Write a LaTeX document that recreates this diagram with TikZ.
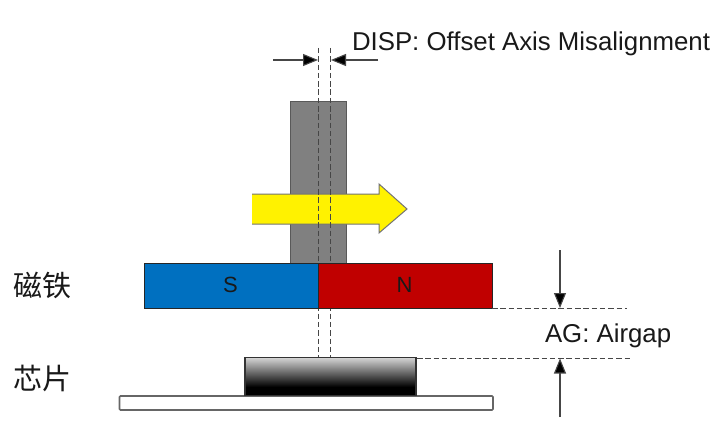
\documentclass[tikz,border=0pt]{standalone}
\usepackage{fontspec}
\setmainfont{Liberation Sans}
\newfontfamily\cjk{Noto Sans CJK SC}
\usetikzlibrary{arrows.meta,shapes.arrows}
\definecolor{barcol}{RGB}{128,128,128}
\definecolor{blueS}{RGB}{0,112,192}
\definecolor{redN}{RGB}{192,0,0}
\definecolor{linegray}{RGB}{70,70,70}
\tikzset{
  every node/.style={outer sep=0pt},
  lab/.style={font=\fontsize{25.8}{28}\selectfont,text=black!90,inner sep=0pt,anchor=west},
  cjklab/.style={font=\cjk\fontsize{29}{31}\selectfont,text=black!90,inner sep=0pt,anchor=west},
  pole/.style={font=\fontsize{22}{24}\selectfont,text=black!90},
  guide/.style={dash pattern=on 5.5pt off 2.8pt,line width=0.9pt,draw=linegray},
  dim/.style={line width=1.1pt,draw=linegray,-{Triangle[length=15pt,width=12pt,fill=black]}},
  magnet/.style={draw=black!85,line width=1pt,minimum height=45pt,inner sep=0pt,anchor=north west,minimum width=174pt}
}
\begin{document}
\begin{tikzpicture}[x=1pt,y=-1pt]
\useasboundingbox (0,0) rectangle (723,441);
\fill[white] (0,0) rectangle (723,441);
% board and chip
\node[draw=black!60,line width=1.6pt,fill=white,rounded corners=1pt,minimum width=373.5pt,minimum height=14pt,inner sep=0pt,anchor=north west] (board) at (119.5,396) {};
\fill[black] (245,386) rectangle (416,395);
\shade[top color=black!15,bottom color=black] (245,357) rectangle (416,387);
\node[draw=black!80,line width=1.1pt,minimum width=171pt,minimum height=38pt,inner sep=0pt,anchor=north west] (chip) at (245,357.5) {};
% bar
\node[draw=black!65,fill=barcol,line width=1pt,minimum width=56pt,minimum height=161.5pt,inner sep=0pt,anchor=north west] (bar) at (290.5,101.5) {};
% yellow arrow
\fill[yellow,draw=none] (252,194) -- (379,194) -- (379,184) -- (407,209) -- (379,233) -- (379,224) -- (252,224) -- cycle;
\draw[black!55,line width=1pt] (252,194) -- (379,194) -- (379,184) -- (407,209) -- (379,233) -- (379,224) -- (252,224);
% guides
\coordinate (g1t) at (318.5,48); \coordinate (g1b) at (318.5,357);
\coordinate (g2t) at (330.5,48); \coordinate (g2b) at (330.5,357);
\draw[guide] (g1t) -- (g1b);
\draw[guide] (g2t) -- (g2b);
% magnets
\node[magnet,fill=blueS] (south) at (144,263) {};
\node[magnet,fill=redN] (north) at (318,263) {};
\node[pole] at (230.5,285) {S};
\node[pole] at (404.5,285) {N};
\draw[dim] (273,60) coordinate (dl) -- (318,60) coordinate (dle);
\draw[dim] (378,60) coordinate (dr) -- (331,60) coordinate (dre);
% airgap
\coordinate (a1) at (627,308); \coordinate (a2) at (630,358.5);
\draw[guide] (north.south east) -- (a1);
\draw[guide] (417,358.5) coordinate (a2s) -- (a2);
\draw[dim] (560,250) coordinate (t1) -- (560,308) coordinate (t2);
\draw[dim] (560,417) coordinate (b1) -- (560,358.5) coordinate (b2);
% labels
\node[lab] (disp) at (352,43.5) {DISP: Offset Axis Misalignment};
\node[lab] (ag) at (545,335.5) {AG: Airgap};
\node[cjklab] (mag) at (13,285) {磁铁};
\node[cjklab] (ic) at (13,378) {芯片};
\end{tikzpicture}
\end{document}
